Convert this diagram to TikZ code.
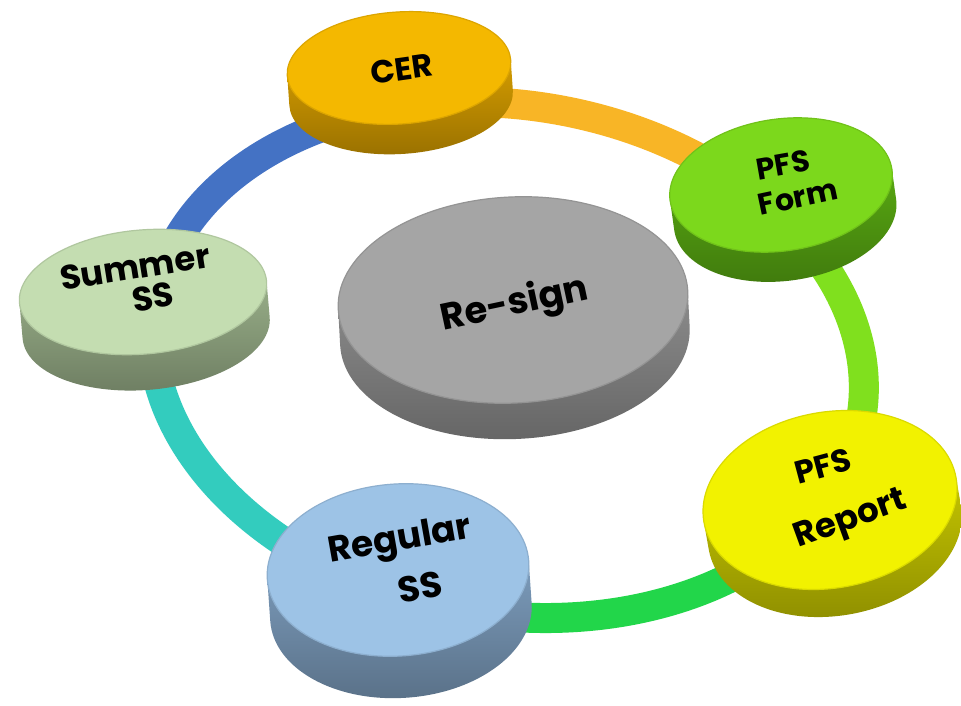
\documentclass[tikz,border=0pt]{standalone}
\usepackage{fontspec}
\newfontfamily\lblfont{Poppins}
\definecolor{ringblue}{HTML}{4472C4}
\definecolor{ringorange}{HTML}{F8B526}
\definecolor{ringlime}{HTML}{80E01E}
\definecolor{ringgreen}{HTML}{22D64A}
\definecolor{ringteal}{HTML}{33CCBE}
\definecolor{cerface}{HTML}{F4B800}
\definecolor{cerside}{HTML}{D49C00}
\definecolor{formface}{HTML}{7CD81C}
\definecolor{formside}{HTML}{58A812}
\definecolor{sumface}{HTML}{C4DDB1}
\definecolor{sumside}{HTML}{98AE88}
\definecolor{resface}{HTML}{A5A5A5}
\definecolor{resside}{HTML}{8C8C8C}
\definecolor{repface}{HTML}{F2F200}
\definecolor{repside}{HTML}{C4C400}
\definecolor{regface}{HTML}{9DC3E6}
\definecolor{regside}{HTML}{7C9CBC}
% #1 x, #2 y, #3 rx, #4 ry, #5 rotation, #6 depth, #7 face, #8 side
\newcommand\mydisk[8]{%
  \begin{scope}[shift={(#1,#2)},rotate=#5]
    \shade[top color=#8, bottom color=#8!72!black]
      (-#3,0) -- (-#3,-#6) arc[start angle=180,end angle=360,x radius=#3,y radius=#4]
      -- (#3,0) arc[start angle=0,end angle=-180,x radius=#3,y radius=#4] -- cycle;
    \fill[#7] (0,0) ellipse [x radius=#3, y radius=#4];
    \draw[#7!90!black, line width=1.2pt] (0,0) ellipse [x radius=#3, y radius=#4];
  \end{scope}}
\tikzset{
  ringseg/.style={line width=30pt, line cap=butt},
  lbl/.style={inner sep=0pt, text=black, font=\lblfont\bfseries\fontsize{#1}{#1}\selectfont},
}
\begin{document}
\begin{tikzpicture}[x=1pt,y=1pt]
\useasboundingbox (0,0) rectangle (961,706);
\fill[white] (0,0) rectangle (961,706);
% ring
\begin{scope}[shift={(508,346)},rotate=-9]
  \draw[ringseg, ringblue]   (112:358 and 255) arc[start angle=112,end angle=177,x radius=358,y radius=255];
  \draw[ringseg, ringorange] (52:358 and 255)  arc[start angle=52,end angle=112,x radius=358,y radius=255];
  \draw[ringseg, ringlime]   (-20:358 and 255) arc[start angle=-20,end angle=52,x radius=358,y radius=255];
  \draw[ringseg, ringgreen]  (256:358 and 255) arc[start angle=256,end angle=340,x radius=358,y radius=255];
  \draw[ringseg, ringteal]   (177:358 and 255) arc[start angle=177,end angle=256,x radius=358,y radius=255];
\end{scope}
% disks
\mydisk{399}{638}{112}{56}{4}{30}{cerface}{cerside}
\mydisk{781}{521}{112}{66}{8}{30}{formface}{formside}
\mydisk{143}{414}{124}{62}{5}{36}{sumface}{sumside}
\mydisk{513}{406}{175}{103}{3}{36}{resface}{resside}
\mydisk{830}{206}{128}{88}{10}{28}{repface}{repside}
\mydisk{398}{136}{131}{86}{4}{42}{regface}{regside}
% labels
\node[lbl=32, rotate=8] (cer) at (402,637) {CER};
\node[lbl=30, rotate=10] (form1) at (783,541) {PFS};
\node[lbl=30, rotate=12] (form2) at (798,509) {Form};
\node[lbl=34, rotate=9] (sum1) at (135,439) {Summer};
\node[lbl=34, rotate=9] (sum2) at (153,409) {SS};
\node[lbl=37, rotate=12] (res) at (515,401) {Re-sign};
\node[lbl=32, rotate=15] (rep1) at (823,240) {PFS};
\node[lbl=34, rotate=20] (rep2) at (851,185) {Report};
\node[lbl=36, rotate=10] (reg1) at (400,164) {Regular};
\node[lbl=36, rotate=10] (reg2) at (420,119) {SS};
\end{tikzpicture}
\end{document}
